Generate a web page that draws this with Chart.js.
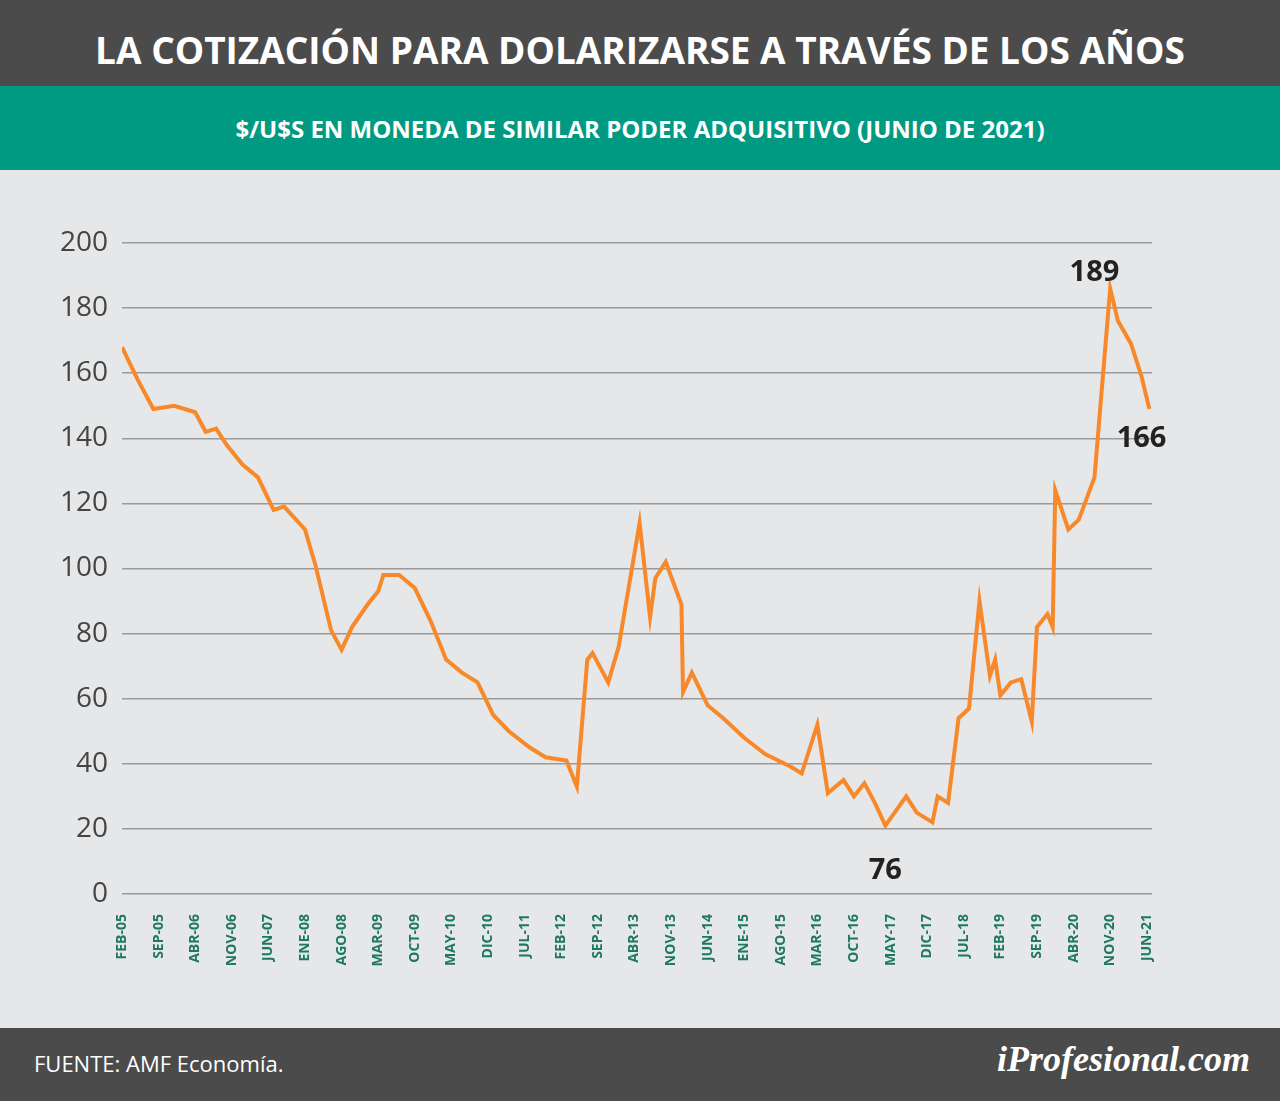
<!DOCTYPE html>
<html><head><meta charset="utf-8">
<script src="https://cdn.jsdelivr.net/npm/chart.js@4"></script>
<style>
body{margin:0;width:1280px;height:1101px;position:relative;background:#e6e7e8;font-family:"Open Sans",sans-serif;overflow:hidden}
#top{position:absolute;left:0;top:0;width:1280px;height:86px;background:#4b4b4b;color:#fff;font-weight:700;font-size:37px;text-align:center;line-height:100px}
#sub{position:absolute;left:0;top:86px;width:1280px;height:84px;background:#009a82;color:#fff;font-weight:700;font-size:24px;text-align:center;line-height:86px}
#wrap{position:absolute;left:0;top:170px;width:1280px;height:858px}
#foot{position:absolute;left:0;top:1028px;width:1280px;height:73px;background:#4b4b4b;color:#fff}
#src{position:absolute;left:34px;top:20px;font-size:22px}
#logo{position:absolute;right:30px;top:10px;font-family:"Liberation Serif",serif;font-style:italic;font-weight:700;font-size:36px;color:#fff}
</style></head><body>
<div id="top">LA COTIZACIÓN PARA DOLARIZARSE A TRAVÉS DE LOS AÑOS</div>
<div id="sub">$/U$S EN MONEDA DE SIMILAR PODER ADQUISITIVO (JUNIO DE 2021)</div>
<div id="wrap"><canvas id="c" width="1280" height="858"></canvas></div>
<div id="foot"><div id="src">FUENTE: AMF Economía.</div><div id="logo">iProfesional.com</div></div>
<script>
// meses desde FEB-05
const months = [0,3,6,10,14,16,18,20,23,26,29,31,35,37,40,42,44,47,49,50,53,56,59,62,65,68,71,74,78,81,85,87,89,90,93,95,99,101,102,104,107,107.3,109,112,115,119,123,128,130,133,135,138,140,142,144,146,150,152,155,156,158,160,162,164,166,167,168,170,172,174,175,177,178,178.5,181,183,186,189,190.5,193,195,196.5];
const values = [168,158,149,150,148,142,143,138,132,128,118,119,112,101,81,75,82,89,93,98,98,94,84,72,68,65,55,50,45,42,41,33,72,74,65,76,114,85,97,102,89,62,68,58,54,48,43,39,37,52,31,35,30,34,28,21,30,25,22,30,28,54,57,90,67,72,61,65,66,53,82,86,82,124,112,115,128,186,176,169,159,149];
const tickLabels = ['FEB-05','SEP-05','ABR-06','NOV-06','JUN-07','ENE-08','AGO-08','MAR-09','OCT-09','MAY-10','DIC-10','JUL-11','FEB-12','SEP-12','ABR-13','NOV-13','JUN-14','ENE-15','AGO-15','MAR-16','OCT-16','MAY-17','DIC-17','JUL-18','FEB-19','SEP-19','ABR-20','NOV-20','JUN-21'];
const notes = [{x:186,y:191,t:'189'},{x:146,y:7,t:'76'},{x:195,y:140,t:'166'}];

const notePlugin = {
  id: 'notes',
  afterDatasetsDraw(chart) {
    const ctx = chart.ctx, xs = chart.scales.x, ys = chart.scales.y;
    ctx.save();
    ctx.font = 'bold 29px "Open Sans"';
    ctx.fillStyle = '#222';
    ctx.textAlign = 'center';
    ctx.textBaseline = 'middle';
    notes.forEach(n => ctx.fillText(n.t, xs.getPixelForValue(n.x), ys.getPixelForValue(n.y)));
    ctx.restore();
  }
};

new Chart(document.getElementById('c'), {
  type: 'scatter',
  data: { datasets: [{
    data: months.map((m, i) => ({x: m, y: values[i]})),
    showLine: true, borderColor: '#f7892a', borderWidth: 4, pointRadius: 0, tension: 0
  }]},
  options: {
    responsive: false, animation: false,
    layout: { padding: { top: 73, right: 128, left: 0, bottom: 0 } },
    plugins: { legend: { display: false }, tooltip: { enabled: false } },
    scales: {
      x: {
        type: 'linear', min: 0, max: 197,
        afterFit: s => { s.height = 134; },
        afterBuildTicks: s => { s.ticks = tickLabels.map((l, i) => ({value: i * 7})); },
        grid: { display: false }, border: { display: false },
        ticks: { autoSkip: false, maxRotation: 90, minRotation: 90, padding: 12,
          color: '#1d7a5f', font: { family: 'Open Sans', weight: 'bold', size: 14 },
          callback: v => tickLabels[Math.round(v / 7)] }
      },
      y: {
        min: 0, max: 200,
        afterFit: s => { s.width = 122; },
        grid: { color: '#9a9a9a', lineWidth: 1.5, drawTicks: false },
        border: { display: false },
        ticks: { stepSize: 20, padding: 14, color: '#444', font: { family: 'Open Sans', size: 28 } }
      }
    }
  },
  plugins: [notePlugin]
});
</script>
</body></html>
